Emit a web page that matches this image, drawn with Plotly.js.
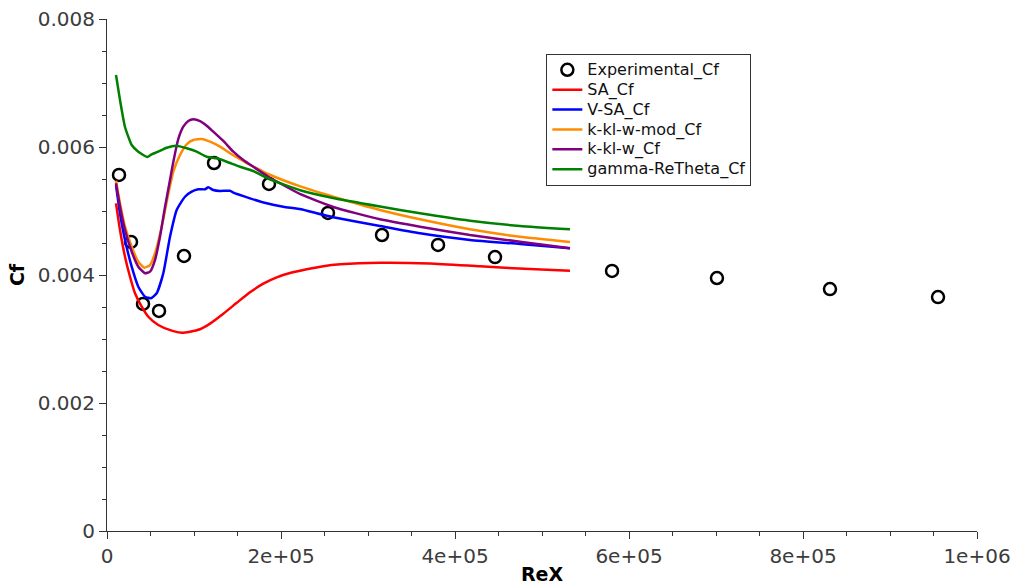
<!DOCTYPE html>
<html>
<head>
<meta charset="utf-8">
<script src="https://cdn.plot.ly/plotly-3.0.1.min.js"></script>
<style>
  html, body { margin: 0; padding: 0; background: #fff; }
  #chart { width: 1017px; height: 585px; }
</style>
</head>
<body>
<div id="chart"></div>
<script>
// Skin friction coefficient along the plate vs. local Reynolds number

// Experimental data
const expReX = [13800, 27600, 41400, 59800, 88500, 123000, 186200, 254000, 316100, 380500, 446000, 580500, 701100, 831000, 955200];
const expCf  = [0.005563, 0.004516, 0.003547, 0.003438, 0.004297, 0.00575, 0.005422, 0.004969, 0.004625, 0.004469, 0.004281, 0.004063, 0.003953, 0.003781, 0.003656];

// SA model
const saReX = [10345, 14943, 20690, 26437, 32184, 39885, 47471, 58966, 74368, 85862, 95402, 106897, 118391, 133678, 149080, 164368, 179655, 195057, 210345, 229540, 248621, 268161, 313793, 371264, 428736, 486207, 532184];
const saCf  = [0.005120, 0.004703, 0.004286, 0.003973, 0.003714, 0.003505, 0.003348, 0.003219, 0.003130, 0.003098, 0.003114, 0.003152, 0.003240, 0.003395, 0.003565, 0.003730, 0.003865, 0.003964, 0.004030, 0.004089, 0.004138, 0.004167, 0.004192, 0.004180, 0.004135, 0.004092, 0.004067];

// V-SA model
const vsaReX = [10345, 14943, 20690, 28391, 35977, 43678, 50575, 57126, 64713, 72414, 80115, 89655, 97356, 104943, 112644, 116437, 122184, 129885, 141379, 145172, 164368, 183563, 202644, 222989, 241034, 260115, 313793, 359770, 417241, 474713, 532184];
const vsaCf  = [0.005406, 0.004964, 0.004547, 0.004130, 0.003817, 0.003661, 0.003636, 0.003714, 0.004027, 0.004598, 0.005016, 0.005223, 0.005302, 0.005339, 0.005339, 0.005370, 0.005328, 0.005313, 0.005317, 0.005286, 0.005198, 0.005120, 0.005067, 0.005027, 0.004964, 0.004902, 0.004766, 0.004652, 0.004547, 0.004484, 0.004417];

// k-kl-w modified model
const kmodReX = [10345, 14943, 20690, 28391, 35977, 42874, 49425, 55172, 62874, 70460, 76207, 83908, 91609, 99195, 108851, 118391, 129885, 141379, 152874, 164368, 175862, 185057, 222989, 260115, 313793, 359770, 417241, 474713, 532184];
const kmodCf  = [0.005473, 0.005120, 0.004755, 0.004442, 0.004208, 0.004114, 0.004156, 0.004339, 0.004755, 0.005266, 0.005614, 0.005875, 0.006042, 0.006109, 0.006125, 0.006083, 0.006005, 0.005902, 0.005808, 0.005719, 0.005641, 0.005578, 0.005380, 0.005223, 0.005016, 0.004870, 0.004714, 0.004598, 0.004516];

// k-kl-w model
const kReX = [10345, 14943, 20690, 28391, 35977, 43678, 49425, 55172, 60920, 66667, 72414, 76207, 81954, 87701, 93448, 99195, 106897, 114598, 122184, 133678, 145172, 156667, 168161, 185057, 222989, 260115, 313793, 359770, 417241, 474713, 532184];
const kCf  = [0.005433, 0.005067, 0.004703, 0.004364, 0.004130, 0.004027, 0.004052, 0.004234, 0.004598, 0.005063, 0.005484, 0.005766, 0.006125, 0.006317, 0.006406, 0.006433, 0.006406, 0.006333, 0.006239, 0.006094, 0.005927, 0.005797, 0.005692, 0.005539, 0.005258, 0.005063, 0.004870, 0.004755, 0.004625, 0.004520, 0.004417];

// gamma-ReTheta model
const grtReX = [10345, 14943, 20690, 28391, 35977, 46322, 51379, 58966, 68621, 80115, 91609, 103103, 114598, 126092, 137586, 152874, 168161, 185057, 222989, 259770, 313793, 359770, 417241, 474713, 532184];
const grtCf  = [0.007125, 0.006734, 0.006313, 0.006031, 0.005927, 0.005844, 0.005886, 0.005927, 0.005989, 0.006020, 0.005980, 0.005927, 0.005848, 0.005823, 0.005770, 0.005692, 0.005625, 0.005508, 0.005320, 0.005203, 0.005070, 0.004964, 0.004848, 0.004766, 0.004714];

// Axis tick labels
const xTickVals = [0, 200000, 400000, 600000, 800000, 1000000];
const xTickText = ['0', '2e+05', '4e+05', '6e+05', '8e+05', '1e+06'];
const yTickVals = [0, 0.002, 0.004, 0.006, 0.008];
const yTickText = ['0', '0.002', '0.004', '0.006', '0.008'];

const FONT = 'DejaVu Sans, Verdana, sans-serif';
const LW = 2.5;

// legend entries are set a little larger than the legend's row spacing font
function legendName(s) {
  return '<span style="font-size:16px">' + s + '</span>';
}

function curve(x, y, name, color) {
  return {
    x: x, y: y, name: legendName(name), type: 'scatter', mode: 'lines',
    line: { color: color, width: LW, shape: 'spline', smoothing: 0.5 }
  };
}

const traces = [
  {
    x: expReX, y: expCf, name: legendName('Experimental_Cf'), type: 'scatter', mode: 'markers',
    marker: { symbol: 'circle-open', size: 12, color: '#000', line: { color: '#000', width: 2.5 } }
  },
  curve(saReX, saCf, 'SA_Cf', '#ff0000'),
  curve(vsaReX, vsaCf, 'V-SA_Cf', '#0000ff'),
  curve(kmodReX, kmodCf, 'k-kl-w-mod_Cf', '#ff8c00'),
  curve(kReX, kCf, 'k-kl-w_Cf', '#800080'),
  curve(grtReX, grtCf, 'gamma-ReTheta_Cf', '#008000')
];

const axisCommon = {
  showgrid: false,
  zeroline: false,
  showline: true,
  linecolor: '#333',
  linewidth: 1,
  ticks: 'outside',
  ticklen: 7,
  tickwidth: 1,
  tickcolor: '#333',
  tickfont: { family: FONT, size: 20, color: '#3c3c3c' },
  tickmode: 'array'
};

const layout = {
  width: 1017,
  height: 585,
  margin: { l: 107, r: 40, t: 19, b: 54 },
  paper_bgcolor: '#fff',
  plot_bgcolor: '#fff',
  font: { family: FONT },
  showlegend: true,
  xaxis: Object.assign({}, axisCommon, {
    range: [0, 1000000],
    tickvals: xTickVals,
    ticktext: xTickText,
    minor: { dtick: 50000, ticks: 'outside', ticklen: 4, tickcolor: '#333', showgrid: false },
    title: { text: 'ReX', font: { family: FONT, size: 19, color: '#000', weight: 'bold' }, standoff: 6 }
  }),
  yaxis: Object.assign({}, axisCommon, {
    range: [0, 0.008],
    tickvals: yTickVals,
    ticktext: yTickText,
    minor: { dtick: 0.0005, ticks: 'outside', ticklen: 4, tickcolor: '#333', showgrid: false },
    title: { text: 'Cf', font: { family: FONT, size: 19, color: '#000', weight: 'bold' }, standoff: 8 }
  }),
  legend: {
    x: 0.505, y: 0.932, xanchor: 'left', yanchor: 'top',
    bgcolor: '#fff',
    bordercolor: '#333',
    borderwidth: 1,
    font: { family: FONT, size: 13, color: '#111' },
    tracegroupgap: 0,
    itemwidth: 30
  }
};

Plotly.newPlot('chart', traces, layout, { displayModeBar: false, staticPlot: true });
</script>
</body>
</html>
